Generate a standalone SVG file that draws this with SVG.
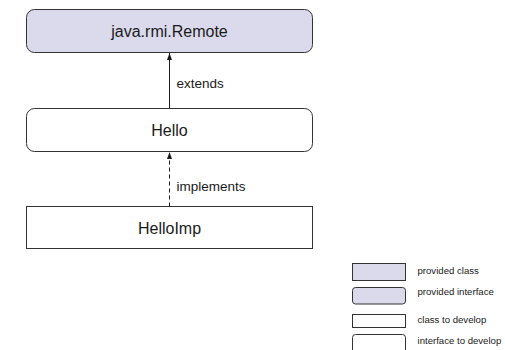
<svg xmlns="http://www.w3.org/2000/svg" width="505" height="350" viewBox="0 0 505 350">
  <style>
    text { font-family: "Liberation Sans", Arial, sans-serif; fill: #1a1a1a; }
    .box { stroke: #333333; stroke-width: 1; }
    .provided { fill: #dadaec; }
    .develop { fill: #ffffff; }
    .name { font-size: 16px; text-anchor: middle; }
    .lbl { font-size: 13.5px; }
    .legend { font-size: 9.6px; }
    .edge { stroke: #1a1a1a; stroke-width: 1; fill: none; }
    .dashed { stroke-dasharray: 4 3; }
  </style>
  <defs>
    <marker id="arrow" markerWidth="8" markerHeight="8" refX="7" refY="4" orient="auto" markerUnits="userSpaceOnUse">
      <path d="M0,1.5 L7,4 L0,6.5 Z" fill="#1a1a1a"/>
    </marker>
  </defs>

  <rect width="505" height="350" fill="#ffffff"/>

  <g id="remote">
    <rect class="box provided" x="26.5" y="9.5" width="286" height="43" rx="8"/>
    <text class="name" x="169.5" y="36.5">java.rmi.Remote</text>
  </g>

  <g id="hello">
    <rect class="box develop" x="26.5" y="108.5" width="286" height="43" rx="8"/>
    <text class="name" x="169.5" y="136">Hello</text>
  </g>

  <g id="helloimp">
    <rect class="box develop" x="26.5" y="206.5" width="286" height="42"/>
    <text class="name" x="169.5" y="233.5">HelloImp</text>
  </g>

  <g id="connectors">
    <line class="edge" x1="169.5" y1="108.5" x2="169.5" y2="53" marker-end="url(#arrow)"/>
    <text class="lbl" x="176.5" y="88">extends</text>
    <line class="edge dashed" x1="169.5" y1="206.5" x2="169.5" y2="152" marker-end="url(#arrow)"/>
    <text class="lbl" x="176.5" y="191">implements</text>
  </g>

  <g id="legend">
    <rect class="box provided" x="352.5" y="263.5" width="53" height="17"/>
    <text class="legend" x="417.5" y="274">provided class</text>
    <rect class="box provided" x="352.5" y="287.5" width="53" height="16.5" rx="3"/>
    <text class="legend" x="417.5" y="295">provided interface</text>
    <rect class="box develop" x="352.5" y="314.5" width="53" height="13"/>
    <text class="legend" x="417.5" y="322.5">class to develop</text>
    <rect class="box develop" x="352.5" y="334.5" width="53" height="20" rx="3"/>
    <text class="legend" x="417.5" y="343.5">interface to develop</text>
  </g>
</svg>
